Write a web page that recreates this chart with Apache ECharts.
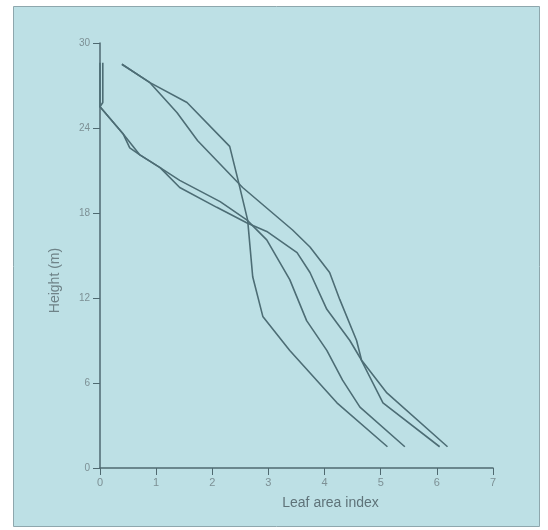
<!DOCTYPE html>
<html>
<head>
<meta charset="utf-8">
<script src="https://cdn.jsdelivr.net/npm/echarts@6/dist/echarts.min.js"></script>
<style>
html,body{margin:0;padding:0;background:#ffffff;}
#chart{width:548px;height:530px;}
</style>
</head>
<body>
<div id="chart"></div>
<script>
// Data (leaf area index vs height)
const xTicks = [0, 1, 2, 3, 4, 5, 6, 7];
const yTicks = [0, 6, 12, 18, 24, 30];
const xTitle = "Leaf area index";
const yTitle = "Height (m)";

const curve1LAI = [0.39, 0.89, 1.55, 2.31, 2.46, 2.63, 2.72, 2.90, 3.38, 4.22, 5.12];
const curve1H   = [28.5, 27.2, 25.8, 22.7, 20.3, 17.5, 13.5, 10.7, 8.3, 4.6, 1.5];

const curve2LAI = [0.39, 0.89, 1.37, 1.74, 2.54, 3.43, 3.74, 4.09, 4.27, 4.57, 4.66, 5.11, 6.19];
const curve2H   = [28.5, 27.2, 25.1, 23.1, 19.8, 16.8, 15.6, 13.8, 11.9, 9.0, 7.6, 5.3, 1.5];

const curve3LAI = [0.00, 0.00, 0.41, 0.53, 0.71, 1.07, 1.42, 2.14, 2.62, 2.97, 3.38, 3.68, 4.04, 4.32, 4.63, 5.43];
const curve3H   = [28.6, 25.5, 23.6, 22.6, 22.1, 21.2, 20.3, 18.8, 17.5, 16.1, 13.3, 10.4, 8.3, 6.2, 4.3, 1.5];

const curve4LAI = [0.05, 0.05, 0.00, 0.41, 0.71, 1.07, 1.42, 2.08, 2.62, 2.97, 3.51, 3.74, 4.04, 4.45, 4.63, 5.04, 6.05];
const curve4H   = [28.6, 25.8, 25.5, 23.6, 22.1, 21.2, 19.8, 18.4, 17.3, 16.7, 15.2, 13.8, 11.2, 9.0, 7.8, 4.6, 1.5];

const curves = [
  [curve1LAI, curve1H],
  [curve2LAI, curve2H],
  [curve3LAI, curve3H],
  [curve4LAI, curve4H]
];

const lineColor = '#4d6d75';
const axisColor = '#4f6970';
const labelColor = '#7d9095';

const chart = echarts.init(document.getElementById('chart'), null, {renderer: 'canvas'});
chart.setOption({
  animation: false,
  backgroundColor: '#ffffff',
  graphic: [{
    type: 'rect',
    z: -10,
    shape: {x: 13.5, y: 6.5, width: 526, height: 520},
    style: {fill: '#bde0e5', stroke: '#8ea7ad', lineWidth: 1}
  }],
  grid: {left: 100, right: 55, top: 43, bottom: 62},
  xAxis: {
    type: 'value', min: 0, max: 7, interval: 1,
    name: xTitle, nameLocation: 'middle', nameGap: 28,
    nameTextStyle: {color: '#5f7379', fontSize: 14, fontFamily: 'Liberation Sans, Arial', padding: [0, 0, 0, 68]},
    axisLine: {show: true, lineStyle: {color: axisColor, width: 1.5}},
    axisTick: {show: true, length: 7, lineStyle: {color: axisColor, width: 1}},
    axisLabel: {color: labelColor, fontSize: 11, margin: 9, fontFamily: 'Liberation Sans, Arial',
      formatter: v => xTicks.includes(v) ? String(v) : ''},
    splitLine: {show: false}
  },
  yAxis: {
    type: 'value', min: 0, max: 30, interval: 6,
    name: yTitle, nameLocation: 'middle', nameGap: 38, nameRotate: 90,
    nameTextStyle: {color: '#6f8388', fontSize: 14, fontFamily: 'Liberation Sans, Arial', padding: [0, 50, 0, 0]},
    axisLine: {show: true, lineStyle: {color: axisColor, width: 1.5}},
    axisTick: {show: true, length: 7, lineStyle: {color: axisColor, width: 1}},
    axisLabel: {color: labelColor, fontSize: 10, margin: 10, fontFamily: 'Liberation Sans, Arial',
      formatter: v => yTicks.includes(v) ? String(v) : ''},
    splitLine: {show: false}
  },
  series: curves.map(c => ({
    type: 'line',
    data: c[0].map((x, i) => [x, c[1][i]]),
    symbol: 'none',
    lineStyle: {color: lineColor, width: 1.6},
    z: 3
  }))
});
</script>
</body>
</html>
